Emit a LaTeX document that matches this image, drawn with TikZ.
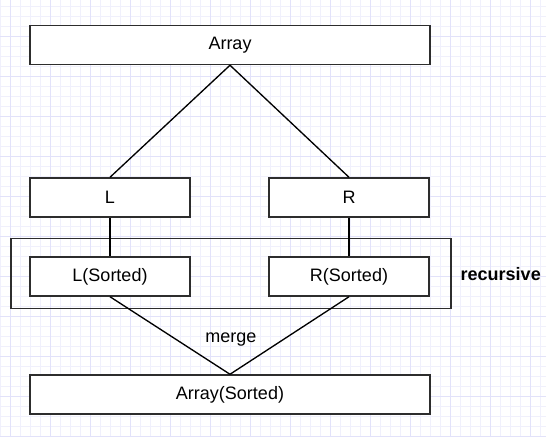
\documentclass[tikz,border=0pt]{standalone}
\usepackage{fontspec}
\setmainfont{Liberation Sans}
\usetikzlibrary{positioning}
\definecolor{gridminor}{RGB}{240,240,252}
\definecolor{gridmajor}{RGB}{226,226,250}
\definecolor{edge}{RGB}{45,45,45}

\tikzset{
  box/.style={draw=edge, line width=1.1pt, fill=white, inner sep=0pt,
              minimum height=29.25pt, font=\fontsize{13.5}{16}\selectfont},
  wide/.style={box, minimum width=300pt},
  half/.style={box, minimum width=120pt},
  link/.style={line width=1pt, black}
}

\begin{document}
\begin{tikzpicture}[x=0.75pt, y=0.75pt]
    \useasboundingbox (0,0) rectangle (546,437);
    % background grid
    \foreach \gx in {0,10,...,540}
      \draw [gridminor, line width=0.6pt] (\gx,0) -- (\gx,437);
    \foreach \gy in {1,11,...,431}
      \draw [gridminor, line width=0.6pt] (0,\gy) -- (546,\gy);
    \foreach \gx in {10,50,...,530}
      \draw [gridmajor, line width=0.6pt] (\gx,0) -- (\gx,437);
    \foreach \gy in {1,41,...,401}
      \draw [gridmajor, line width=0.6pt] (0,\gy) -- (546,\gy);

    \node [draw=edge, line width=1.1pt, minimum width=330pt, minimum height=52.5pt,
           inner sep=0pt] (rec) at (231,163.5) {};
    \node [anchor=west, font=\fontsize{13.5}{16}\selectfont\bfseries]
          (reclabel) at (456,163) {recursive};

    \node [wide] (arr)  at (230,392) {Array};
    \node [half] (left)  at (110,239.5) {L};
    \node [half] (right) at (349,239.5) {R};
    \node [half] (lsort) at (110,160.5) {L(Sorted)};
    \node [half] (rsort) at (349,160.5) {R(Sorted)};
    \node [wide] (asort) at (230,42.5) {Array(Sorted)};

    \draw [link] (arr.south) -- (left.north);
    \draw [link] (arr.south) -- (right.north);
    \draw [link] (left.south) -- (lsort.north);
    \draw [link] (right.south) -- (rsort.north);
    \draw [link] (lsort.south) -- (asort.north);
    \draw [link] (rsort.south) -- (asort.north);

    \node [font=\fontsize{13.5}{16}\selectfont] (merge) at (231,97) {merge};
  \end{tikzpicture}
\end{document}
